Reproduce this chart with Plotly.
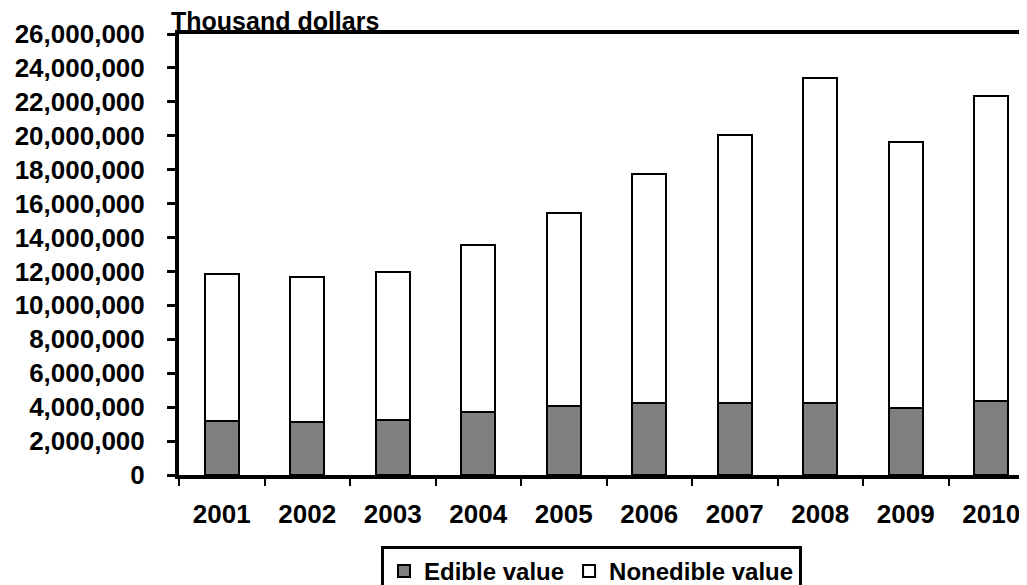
import plotly.graph_objects as go

years = ["2001", "2002", "2003", "2004", "2005", "2006", "2007", "2008", "2009", "2010"]
edible = [3180000, 3100000, 3240000, 3690000, 4080000, 4220000, 4260000, 4240000, 3970000, 4360000]
total = [11830000, 11690000, 11960000, 13550000, 15460000, 17750000, 20040000, 23380000, 19640000, 22350000]
nonedible = [t - e for t, e in zip(total, edible)]
y_ticks = list(range(0, 26000001, 2000000))

FONT = "Liberation Sans, Arial, sans-serif"

fig = go.Figure()
fig.add_trace(go.Bar(x=years, y=edible, name="Edible value",
                     marker=dict(color="#808080", line=dict(color="black", width=2))))
fig.add_trace(go.Bar(x=years, y=nonedible, name="Nonedible value",
                     marker=dict(color="white", line=dict(color="black", width=2))))

W, H = 1027, 585
OFF = 8  # page body margin
L, R, T, B = 179 - OFF, 0, 34 - OFF, 118
plot_w = W - L - R
cat_px = 85.5

fig.update_layout(
    width=W, height=H,
    barmode="stack", bargap=0.6,
    plot_bgcolor="white", paper_bgcolor="white",
    margin=dict(l=L, r=R, t=T, b=B, autoexpand=False),
    font=dict(family=FONT, size=26, color="black"),
    showlegend=True,
    legend=dict(orientation="h", xref="container", yref="container",
                x=(591.5 - OFF) / W, xanchor="center", y=1 - (546 - OFF) / H, yanchor="top",
                bordercolor="black", borderwidth=3, bgcolor="white",
                font=dict(family=FONT, size=24, color="black", weight="bold"),
                traceorder="normal"),
    xaxis=dict(type="category", range=[-0.5, -0.5 + plot_w / cat_px],
               showline=True, linecolor="black", linewidth=4, mirror=True,
               ticks="outside", ticklen=7, tickwidth=2, tickcolor="black",
               tickson="boundaries", showgrid=False,
               tickfont=dict(family=FONT, size=26, weight="bold"),
               ticklabelstandoff=13),
    yaxis=dict(range=[0, 26000000], tickvals=y_ticks,
               ticktext=[f"{v:,}" for v in y_ticks],
               showline=True, linecolor="black", linewidth=4,
               ticks="outside", ticklen=8, tickwidth=3, tickcolor="black",
               showgrid=False, zeroline=False,
               tickfont=dict(family=FONT, size=26, weight="bold"),
               ticklabelstandoff=17),
    annotations=[dict(text="<b>Thousand dollars</b>", xref="paper", yref="paper",
                      x=-10 / plot_w, y=1, xanchor="left", yanchor="bottom",
                      yshift=-3, showarrow=False,
                      font=dict(family=FONT, size=25, color="black"))],
)

fig.write_html("out.html")
